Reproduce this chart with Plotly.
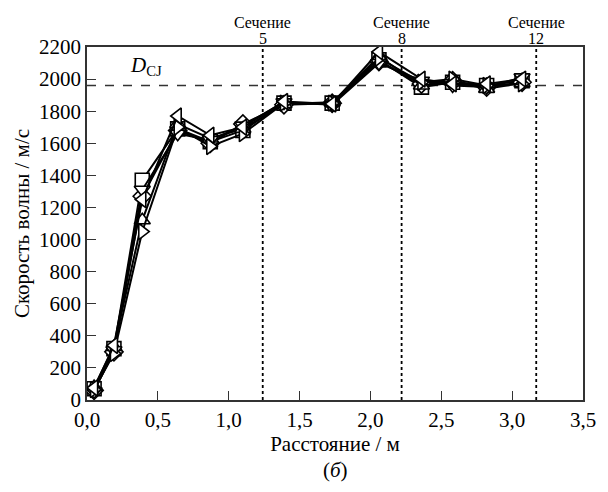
import plotly.graph_objects as go

x_pos = [0.05, 0.19, 0.39, 0.64, 0.87, 1.10, 1.39, 1.73, 2.06, 2.36, 2.58, 2.82, 3.07]

s_square = [70, 320, 1370, 1690, 1610, 1680, 1850, 1850, 2120, 1950, 1980, 1960, 1990]
s_diamond = [60, 300, 1270, 1680, 1600, 1720, 1840, 1850, 2110, 1970, 1990, 1950, 1980]
s_tri_left = [75, 340, 1250, 1770, 1650, 1700, 1860, 1845, 2170, 2000, 1970, 1970, 2000]
s_tri_right = [65, 290, 1050, 1700, 1580, 1660, 1850, 1850, 2130, 1980, 2000, 1960, 1970]
s_tri_up = [80, 330, 1120, 1720, 1630, 1690, 1845, 1855, 2140, 1960, 1985, 1940, 1975]
s_tri_down = [55, 310, 1310, 1660, 1620, 1710, 1855, 1840, 2100, 1990, 1960, 1950, 2010]

series = [
    ("square", s_square),
    ("diamond", s_diamond),
    ("triangle-up", s_tri_up),
    ("triangle-down", s_tri_down),
    ("triangle-right", s_tri_right),
    ("triangle-left", s_tri_left),
]

d_cj = 1960
sections = [1.24, 2.22, 3.17]
section_labels = ["5", "8", "12"]

x_ticks = [0, 0.5, 1.0, 1.5, 2.0, 2.5, 3.0, 3.5]
x_tick_text = ["0,0", "0,5", "1,0", "1,5", "2,0", "2,5", "3,0", "3,5"]
y_ticks = list(range(0, 2201, 200))

FONT = "Liberation Serif"

fig = go.Figure()

fig.add_trace(go.Scatter(x=[0, 3.5], y=[d_cj, d_cj], mode="lines",
                         line=dict(color="#333333", width=1.5, dash="dash"),
                         showlegend=False, hoverinfo="skip"))
for sx in sections:
    fig.add_trace(go.Scatter(x=[sx, sx], y=[0, 2200], mode="lines",
                             line=dict(color="black", width=1.8, dash="dot"),
                             showlegend=False, hoverinfo="skip"))

for sym, vals in series:
    fig.add_trace(go.Scatter(
        x=x_pos, y=vals, mode="lines+markers",
        line=dict(color="black", width=2),
        marker=dict(symbol=sym, size=14, color="white",
                    line=dict(color="black", width=1.6)),
        showlegend=False))

for sx, lab in zip(sections, section_labels):
    fig.add_annotation(x=sx, y=1, xref="x", yref="paper", yanchor="middle",
                       text="Сечение", showarrow=False,
                       font=dict(family=FONT, size=16, color="black"),
                       yshift=25)
    fig.add_annotation(x=sx, y=1, xref="x", yref="paper", yanchor="middle",
                       text=lab, showarrow=False,
                       font=dict(family=FONT, size=16, color="black"),
                       yshift=9)

fig.add_annotation(x=0.29, y=2080, xref="x", yref="y", xanchor="left",
                   text="<i>D</i><sub>CJ</sub>", showarrow=False,
                   font=dict(family=FONT, size=21, color="black"))

fig.add_annotation(x=0.5, y=0, xref="paper", yref="paper", yanchor="top",
                   yshift=-56, text="(<i>б</i>)", showarrow=False,
                   font=dict(family=FONT, size=21, color="black"))

fig.update_layout(
    width=608, height=492,
    margin=dict(l=87, r=17, t=47, b=92),
    paper_bgcolor="white", plot_bgcolor="white",
    font=dict(family=FONT, size=21, color="black"),
    xaxis=dict(range=[0, 3.5], tickvals=x_ticks, ticktext=x_tick_text,
               ticks="inside", ticklen=9, tickwidth=1, tickcolor="#333333",
               showline=True, linecolor="#333333", linewidth=1.5, mirror=True,
               showgrid=False, zeroline=False,
               tickfont=dict(family=FONT, size=21),
               title=dict(text="Расстояние / м", standoff=2,
                          font=dict(family=FONT, size=21))),
    yaxis=dict(range=[0, 2200], tickvals=y_ticks,
               ticks="inside", ticklen=9, tickwidth=1, tickcolor="#333333",
               showline=True, linecolor="#333333", linewidth=1.5, mirror=True,
               showgrid=False, zeroline=False,
               tickfont=dict(family=FONT, size=21),
               title=dict(text="Скорость волны / м/с", standoff=4,
                          font=dict(family=FONT, size=21))),
)

fig.write_html("out.html")
